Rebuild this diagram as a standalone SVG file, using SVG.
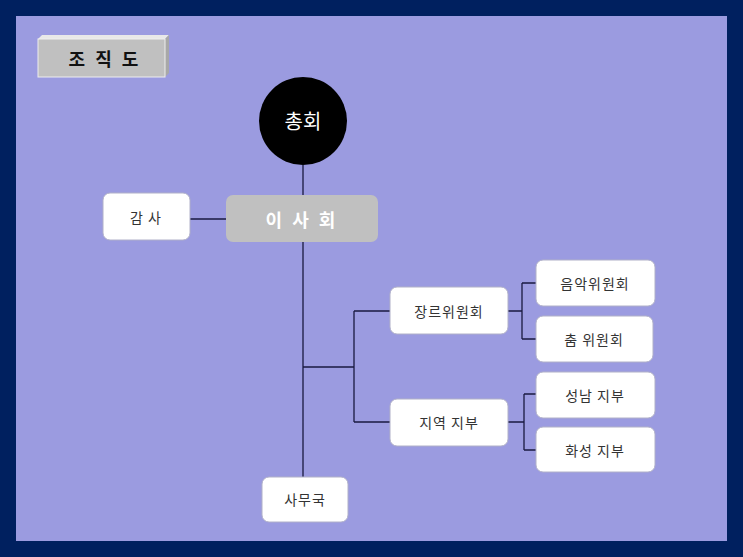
<svg xmlns="http://www.w3.org/2000/svg" width="743" height="557" viewBox="0 0 743 557">
<style>
text{font-family:"Noto Sans CJK KR","Noto Sans",sans-serif;text-anchor:middle;dominant-baseline:central}
.b{fill:#fff;stroke:#b0b0c8;stroke-width:1}
.t{font-size:14px;fill:#333;letter-spacing:1px}
.c{stroke:#1a1a40;stroke-width:1.3;fill:none}
</style>
<rect width="743" height="557" fill="#00205f"/>
<rect x="16" y="16" width="711" height="525" fill="#9b9be0"/>
<g id="title">
<polygon points="38,39 42,35 169,35 165,39" fill="#e8e8e8"/>
<polygon points="165,39 169,35 169,73 165,77" fill="#a8a8a8"/>
<rect x="38" y="39" width="127" height="38" fill="#c0c0c0" stroke="#eee" stroke-width="1"/>
<text x="105" y="58" font-size="18" font-weight="bold" fill="#111" letter-spacing="3">조 직 도</text>
</g>
<g id="connectors" class="c">
<path d="M303,165V477M190,219H226M303,367H354M354,311V422M354,311H390M354,422H390M508,311H522M522,283V339M522,283H536M522,339H536M508,422H524M524,394V450M524,394H536M524,450H536"/>
</g>
<g id="n-chonghoe"><circle cx="303" cy="121" r="44" fill="#000"/><text x="303" y="120" font-size="20" fill="#fff">총회</text></g>
<g id="n-isahoe"><rect x="226" y="195" width="152" height="47" rx="7" fill="#c0c0c0"/><text x="302" y="219" font-size="18" font-weight="bold" fill="#fff" letter-spacing="3">이 사 회</text></g>
<g id="n-gamsa"><rect class="b" x="103" y="193" width="87" height="47" rx="7"/><text class="t" x="146" y="217">감 사</text></g>
<g id="n-genre"><rect class="b" x="390" y="287" width="118" height="47" rx="7"/><text class="t" x="449" y="311">장르위원회</text></g>
<g id="n-region"><rect class="b" x="390" y="399" width="118" height="47" rx="7"/><text class="t" x="449" y="422">지역 지부</text></g>
<g id="n-music"><rect class="b" x="536" y="260" width="119" height="46" rx="7"/><text class="t" x="595" y="283">음악위원회</text></g>
<g id="n-dance"><rect class="b" x="536" y="316" width="117" height="46" rx="7"/><text class="t" x="594" y="339">춤 위원회</text></g>
<g id="n-seongnam"><rect class="b" x="536" y="372" width="119" height="46" rx="7"/><text class="t" x="595" y="395">성남 지부</text></g>
<g id="n-hwaseong"><rect class="b" x="536" y="427" width="119" height="45" rx="7"/><text class="t" x="595" y="450">화성 지부</text></g>
<g id="n-samuguk"><rect class="b" x="262" y="477" width="86" height="45" rx="7"/><text class="t" x="305" y="499">사무국</text></g>
</svg>
